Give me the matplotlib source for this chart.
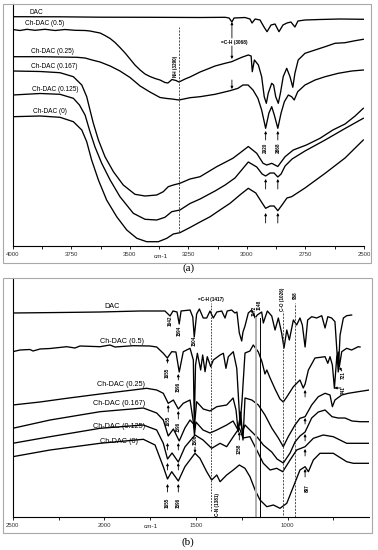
import matplotlib.pyplot as plt
from matplotlib.patches import Rectangle
from matplotlib.ticker import MultipleLocator

plt.rcParams['font.family'] = ['Liberation Sans', 'DejaVu Sans']

# ---------------- panel (a): 4000-2500 cm-1 ----------------
a_labels = ['DAC', 'Ch-DAC (0.5)', 'Ch-DAC (0.25)', 'Ch-DAC (0.167)', 'Ch-DAC (0.125)', 'Ch-DAC (0)']

a_dac_wn = [4000, 3798, 3627, 3414, 3200, 3093, 3076, 3064, 3055, 3008, 2987, 2978, 2965, 2944, 2927,
            2914, 2897, 2880, 2863, 2846, 2829, 2812, 2795, 2782, 2752, 2688, 2603, 2500]
a_dac = [229.3, 229.2, 228.8, 228.7, 228.5, 228.7, 228, 224, 228, 228.5, 227, 223, 227, 226, 219,
         214.3, 221, 222, 214.3, 221, 223, 224, 219, 225, 226, 226.5, 227, 226.7]

a_05_wn = [4000, 3969, 3939, 3905, 3862, 3819, 3777, 3734, 3691, 3670, 3649, 3627, 3606, 3584, 3563,
           3542, 3520, 3499, 3478, 3456, 3435, 3414, 3392, 3371, 3350, 3337, 3320, 3303, 3290, 3264,
           3243, 3200, 3157, 3136, 3093, 3065, 3022, 2994, 2982, 2977, 2968, 2951, 2937, 2926, 2917,
           2909, 2894, 2886, 2877, 2866, 2857, 2845, 2830, 2816, 2804, 2795, 2781, 2752, 2709, 2666,
           2624, 2581, 2538, 2503]
a_05 = [216.5, 215.5, 216.7, 215.7, 216.7, 215.5, 216.5, 215.7, 215.5, 215, 214, 213, 210.5, 207.5, 203.5,
        198.5, 193, 187, 181, 176, 172, 169.5, 167.5, 166, 163.5, 163, 166.5, 165.5, 164, 167,
        169, 174, 178, 180, 182.7, 184.3, 188.7, 191, 190, 174.3, 186, 181, 169.3, 149.3, 142.7,
        152.7, 162.7, 161, 149.3, 142.7, 152.7, 169.3, 177.7, 169.3, 158.7, 172.7, 186, 192.7, 196, 199.3,
        202.7, 203.3, 205.3, 206.7]

a_025_wn = [4000, 3883, 3798, 3725, 3691, 3661, 3627, 3584, 3542, 3499, 3456, 3414, 3371, 3341, 3320,
            3290, 3243, 3200, 3136, 3072, 3038, 3017, 2995, 2974, 2953, 2937, 2920, 2906, 2894, 2883,
            2868, 2854, 2840, 2823, 2809, 2798, 2783, 2752, 2709, 2666, 2610, 2552, 2503]
a_025 = [189.3, 189.3, 189, 188.7, 188, 186, 184, 180, 175, 168.5, 160, 154, 148.5, 147.5, 147,
         146, 148.3, 149.3, 151.7, 155.3, 157.7, 161, 161, 156, 147.7, 136, 117.7, 133, 139.3, 131,
         117.7, 133, 144.3, 151, 149.3, 146, 154.3, 161, 166, 169.3, 172.7, 175, 176]

a_0167_wn = [4000, 3883, 3798, 3741, 3705, 3684, 3670, 3656, 3634, 3606, 3570, 3528, 3478, 3435, 3385,
             3357, 3336, 3314, 3286, 3243, 3200, 3129, 3060, 3030, 2994, 2958, 2931, 2915, 2894, 2868,
             2837, 2802, 2746, 2688, 2633, 2581, 2538, 2503]
a_0167 = [175, 174.5, 173.3, 169.3, 161, 149.3, 136, 123, 106, 89.3, 74.3, 61, 51.7, 50, 51,
          54.3, 59.3, 61, 62.7, 67, 69.3, 79.3, 87.7, 93, 99.5, 92.7, 82.7, 81, 82.7, 79.5,
          89.3, 96, 101, 107.7, 116, 122, 130, 137.7]

a_0125_wn = [4000, 3883, 3798, 3741, 3715, 3691, 3670, 3649, 3620, 3584, 3542, 3485, 3435, 3385, 3350,
             3321, 3286, 3243, 3200, 3136, 3093, 3051, 2994, 2958, 2935, 2920, 2901, 2884, 2868, 2854,
             2837, 2807, 2752, 2666, 2581, 2503]
a_0125 = [151, 152.5, 151.7, 147.7, 141, 131, 114.3, 99.3, 82.7, 66, 49.3, 32.7, 26.7, 26, 28.7,
          34.3, 36, 42.5, 47, 55, 61, 68, 84, 79, 72, 70, 73, 73, 69, 72,
          80, 87, 95, 106, 117.5, 127.7]

a_0_wn = [4000, 3883, 3798, 3741, 3705, 3684, 3663, 3634, 3599, 3556, 3513, 3470, 3428, 3378, 3342,
          3314, 3286, 3243, 3200, 3157, 3115, 3072, 3030, 2994, 2962, 2935, 2920, 2901, 2884, 2868,
          2850, 2829, 2809, 2752, 2666, 2581, 2503]
a_0 = [129.3, 130, 128.7, 124.3, 116, 104.3, 86, 66, 46, 29.3, 16, 7.7, 4.3, 4.3, 7.7,
       12, 13.3, 18.5, 24, 29.3, 36, 42.7, 51, 57.7, 53, 43, 37.7, 40, 40, 35.3,
       41, 48, 49.3, 58, 72.7, 88, 106]

# ---------------- panel (b): 2500-550 cm-1 ----------------
b_dac_wn = [2500, 2242, 2023, 1805, 1669, 1641, 1625, 1603, 1591, 1581, 1532, 1517, 1509, 1496, 1481,
            1460, 1441, 1423, 1405, 1386, 1359, 1341, 1329, 1305, 1287, 1276, 1263, 1250, 1243, 1232,
            1214, 1195, 1177, 1165, 1141, 1132, 1123, 1110, 1086, 1068, 1050, 1032, 1019, 1004, 990,
            968, 950, 932, 919, 904, 890, 868, 841, 813, 795, 780, 759, 741, 730, 723,
            713, 695, 677, 650]
b_dac = [204, 204.5, 205, 206, 206, 201, 206, 205, 193, 206, 207, 200, 180, 203, 208,
         199, 199, 206, 199, 205, 206, 199, 206, 207, 204, 205, 184, 176, 185, 191,
         204, 207, 199, 202, 205, 194, 199, 206, 201, 187, 199, 184, 169, 187, 177,
         197, 192, 199, 192, 170, 197, 200.3, 199, 201.3, 189, 200.3, 199, 195.3, 165, 145,
         182, 199, 201.3, 202]

b_05_wn = [2500, 2460, 2406, 2389, 2351, 2296, 2205, 2160, 2133, 2023, 1969, 1942, 1843, 1751, 1714,
           1678, 1656, 1632, 1609, 1591, 1569, 1532, 1514, 1509, 1502, 1492, 1474, 1463, 1450, 1438,
           1419, 1405, 1368, 1350, 1336, 1323, 1296, 1277, 1259, 1248, 1232, 1205, 1187, 1159, 1139,
           1123, 1113, 1095, 1068, 1041, 1023, 1004, 968, 932, 914, 904, 886, 850, 795,
           780, 768, 755, 744, 731, 723, 717, 704, 677, 650, 614, 604]
b_05 = [165.3, 167, 167.5, 166, 168, 168.5, 170.3, 169, 171, 170.3, 172, 170, 171.3, 171, 170,
        163.7, 159, 165.3, 165, 145, 165.3, 168.7, 157, 92, 152, 163.7, 147, 162, 145.3, 160.3,
        150.3, 157, 162, 163.7, 148.7, 160.3, 165.3, 148.7, 92, 117, 164, 166, 172, 165, 155,
        143, 147, 139, 128, 118, 115, 120, 130.3, 137, 129, 133, 147, 159, 160.3,
        153.7, 160.3, 152, 128.7, 160.3, 165, 150.3, 165.3, 168.7, 167, 170.3, 170]

b_025_wn = [2500, 2351, 2205, 2023, 1843, 1769, 1714, 1678, 1651, 1623, 1596, 1569, 1532, 1509, 1496,
            1460, 1423, 1386, 1332, 1297, 1281, 1269, 1256, 1243, 1232, 1195, 1159, 1123, 1086, 1050,
            1023, 996, 959, 932, 904, 868, 832, 795, 768, 755, 741, 704, 668, 614, 554]
b_025 = [112, 115, 118.7, 123, 127, 128.7, 127, 123.7, 113.7, 117, 108, 113.7, 117, 89, 115.3,
         108, 106, 110.3, 112, 119, 107, 85, 105, 77, 119, 117, 112, 102, 89, 79,
         70.3, 80.3, 92, 98.7, 100.3, 112, 120.3, 123.7, 122, 110.3, 117, 122, 123.7, 125.3, 127]

b_0167_wn = [2500, 2296, 2023, 1787, 1714, 1678, 1651, 1623, 1591, 1560, 1532, 1513, 1508, 1500, 1461,
             1423, 1386, 1332, 1297, 1270, 1259, 1246, 1232, 1205, 1161, 1132, 1086, 1057, 1023, 986,
             959, 932, 904, 868, 832, 795, 757, 724, 686, 648, 604, 554]
b_0167 = [88.7, 97, 105.3, 109, 104, 97, 81, 88, 76, 89, 97, 93, 82, 95, 87,
          84, 87, 92, 96, 87, 99, 85, 92, 87, 79, 72, 65, 58, 54, 64,
          75, 81, 85, 99, 105, 107, 100.3, 99, 99, 96, 95.3, 95.3]

b_0125_wn = [2500, 2296, 2023, 1787, 1714, 1678, 1655, 1630, 1596, 1560, 1505, 1461, 1414, 1368, 1332,
             1296, 1263, 1243, 1205, 1168, 1132, 1095, 1059, 1026, 986, 950, 904, 859, 805, 750,
             677, 554]
b_0125 = [73.7, 80.3, 88.7, 92, 87, 73.7, 58, 64, 55, 70, 82, 77, 68.7, 73.7, 70.3,
          80.3, 89, 79, 80.3, 67, 53.7, 47, 48.7, 45.3, 57, 67, 70.3, 78.7, 82, 80.3,
          73.7, 73.7]

b_0_wn = [2500, 2296, 2023, 1787, 1723, 1678, 1655, 1632, 1596, 1560, 1505, 1478, 1441, 1414, 1386,
          1368, 1332, 1296, 1263, 1232, 1205, 1177, 1150, 1113, 1077, 1041, 1004, 968, 932, 904,
          886, 859, 823, 750, 677, 641, 554]
b_0 = [60.3, 67, 73.7, 77.7, 72, 50.3, 38, 45.3, 36, 50.3, 63.7, 58.7, 45.3, 37, 42,
       35.3, 42, 47, 52, 48.7, 40.3, 27, 17, 10.3, 12, 8.7, 13.7, 30.3, 47, 50.3,
       45.3, 57, 63.7, 63.7, 55.3, 53.7, 53.7]

fig = plt.figure(figsize=(3.78, 5.5), dpi=100)
axa = fig.add_axes([12.7 / 378, 1 - 246 / 550, (364 - 12.7) / 378, (246 - 4) / 550])
axb = fig.add_axes([12.7 / 378, 1 - 517 / 550, (369.3 - 12.7) / 378, (517 - 278) / 550])

lw = 0.95
for wn, t in [(a_dac_wn, a_dac), (a_05_wn, a_05), (a_025_wn, a_025),
              (a_0167_wn, a_0167), (a_0125_wn, a_0125), (a_0_wn, a_0)]:
    axa.plot(wn, t, color='black', lw=lw)
for wn, t in [(b_dac_wn, b_dac), (b_05_wn, b_05), (b_025_wn, b_025),
              (b_0167_wn, b_0167), (b_0125_wn, b_0125), (b_0_wn, b_0)]:
    axb.plot(wn, t, color='black', lw=lw)

axa.set_xlim(4000, 2500)
axa.set_ylim(0, 242)
axb.set_xlim(2500, 553.5)
axb.set_ylim(0, 239)

for ax in (axa, axb):
    ax.spines['top'].set_visible(False)
    ax.spines['right'].set_visible(False)
    for s in ('left', 'bottom'):
        ax.spines[s].set_linewidth(0.8)
    ax.set_yticks([])
    ax.tick_params(axis='x', which='both', direction='out', length=2, width=0.6,
                   labelsize=4.3, pad=2.5, labelcolor='#333333')
axa.set_xticks(range(4000, 2499, -250))
axa.xaxis.set_minor_locator(MultipleLocator(125))
axb.set_xticks(range(2500, 999, -500))
axb.xaxis.set_minor_locator(MultipleLocator(250))

# curve names
lab_a_pos = [(3930, 233), (3947, 222.7), (3923, 194.3), (3923, 180), (3919, 156.7), (3913, 134.3)]
for name, (x, y) in zip(a_labels, lab_a_pos):
    axa.text(x, y, name, fontsize=4.7, ha='left', va='center')
lab_b_pos = [(2001, 211), (2023, 175.3), (2040, 132), (2064, 113.5), (2059, 90.5), (2023, 75.5)]
for name, (x, y) in zip(a_labels, lab_b_pos):
    axb.text(x, y, name, fontsize=5.2, ha='left', va='center')

ap = dict(arrowstyle='-|>', lw=0.6, color='black', mutation_scale=3.5, shrinkA=0, shrinkB=0)
small = dict(fontsize=3.3, fontweight='bold', rotation=90, ha='center', va='center')

# panel (a) markings
axa.plot([3290, 3290], [14, 219], ls=(0, (2.5, 1.5)), lw=0.6, color='#333333')
axa.text(3305, 180, 'NH (3290)', **small)
axa.text(3055, 203.3, '=C-H (3068)', fontsize=3.4, fontweight='bold', ha='center', va='center')
axa.annotate('', xy=(3064, 224), xytext=(3064, 208), arrowprops=ap)
axa.annotate('', xy=(3064, 187), xytext=(3064, 200), arrowprops=ap)
axa.annotate('', xy=(3064, 157), xytext=(3064, 166), arrowprops=ap)
for w in (2920, 2868):
    axa.annotate('', xy=(w, 115), xytext=(w, 106), arrowprops=ap)
    axa.annotate('', xy=(w, 67), xytext=(w, 57), arrowprops=ap)
    axa.annotate('', xy=(w, 33), xytext=(w, 23), arrowprops=ap)
axa.text(2920, 98, '2920', **small)
axa.text(2868, 98, '2868', **small)

# panel (b) markings
axb.plot([1417, 1417], [6, 214], ls=(0, (2, 1.5)), lw=0.6, color='#222222')
axb.plot([1026, 1026], [2, 206], ls=(0, (2.5, 1.5)), lw=0.6, color='#333333')
axb.plot([958, 958], [0, 214], ls=(0, (2.5, 1.5)), lw=0.6, color='#333333')
axb.plot([1172, 1172], [0, 199], lw=1.4, color='#b0b0b0')
axb.plot([1148, 1148], [0, 199], lw=0.7, color='black')
axb.text(1417, 217, '=C-H (1417)', fontsize=3.3, fontweight='bold', ha='center', va='center')
axb.text(1183, 206, '1172', **small)
axb.text(1153, 212, '1148', **small)
axb.text(1025, 218, 'C-O (1026)', **small)
axb.text(956, 222, '958', **small)
axb.text(1641, 196, '1642', **small)
axb.text(1591, 186, '1594', **small)
axb.text(1509, 176, '1504', **small)
axb.text(1381, 13, 'C-N (1381)', **small)

for w, tail, tip, lab, ly in [(1655, 154, 159, '1655', 144.5), (1596, 137, 143, '1596', 130),
                              (1651, 105, 112, '1655', 96), (1596, 98, 106, '1596', 90)]:
    axb.annotate('', xy=(w, tip), xytext=(w, tail), arrowprops=ap)
    axb.text(w, ly, lab, **small)
for w in (1655, 1596):
    axb.annotate('', xy=(w, 74), xytext=(w, 67), arrowprops=ap)
    axb.annotate('', xy=(w, 54), xytext=(w, 47), arrowprops=ap)
    axb.annotate('', xy=(w, 33), xytext=(w, 25), arrowprops=ap)
axb.text(1658, 14, '1655', **small)
axb.text(1596, 14, '1596', **small)
axb.annotate('', xy=(1505, 64), xytext=(1505, 70), arrowprops=ap)
axb.text(1505, 77, '1506', **small)
axb.annotate('', xy=(1263, 85), xytext=(1263, 77), arrowprops=ap)
axb.text(1263, 68, '1258', **small)
for tail, tip in [(120, 127), (93, 99), (76, 83), (61, 68), (40, 48)]:
    axb.annotate('', xy=(904, tip), xytext=(904, tail), arrowprops=ap)
axb.text(894, 29, '897', **small)
axb.annotate('', xy=(717, 150), xytext=(704, 146), arrowprops=ap)
axb.text(697, 142, '721', **small)
axb.annotate('', xy=(744, 129), xytext=(708, 129), arrowprops=ap)
axb.text(697, 127, '741', **small)

# axis titles and panel captions
fig.text(161 / 378, 1 - 256 / 550, 'cm-1', fontsize=4.6, ha='center', va='center', color='#222222')
fig.text(150.5 / 378, 1 - 527 / 550, 'cm-1', fontsize=4.6, ha='center', va='center', color='#222222')
fig.text(189 / 378, 1 - 268 / 550, '(a)', fontsize=8, family='Liberation Serif', ha='center', va='center')
fig.text(188 / 378, 1 - 542 / 550, '(b)', fontsize=8, family='Liberation Serif', ha='center', va='center')

fig.add_artist(Rectangle((3 / 378, 1 - 262.5 / 550), 368 / 378, 258.5 / 550, transform=fig.transFigure,
                         fill=False, edgecolor='#a8a8a8', lw=0.8))
fig.add_artist(Rectangle((3 / 378, 1 - 532.7 / 550), 368.5 / 378, 255 / 550, transform=fig.transFigure,
                         fill=False, edgecolor='#a8a8a8', lw=0.8))

fig.savefig('out.png', dpi=100)
